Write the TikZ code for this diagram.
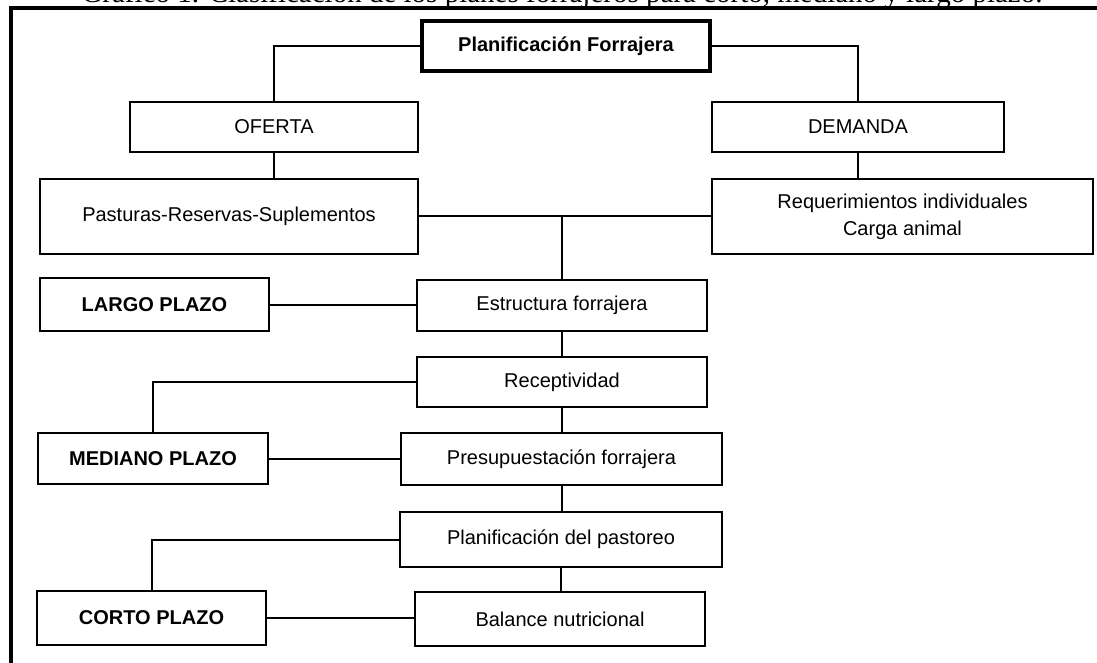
\documentclass[tikz,border=0pt]{standalone}
\usepackage{fontspec}
\setmainfont{Liberation Serif}
\newfontfamily\boxfont{Liberation Sans}
\begin{document}
\begin{tikzpicture}[x=0.5pt,y=-0.5pt,
  bx/.style={draw, line width=1pt, rectangle, inner sep=0pt, align=center,
    font=\boxfont\fontsize{10pt}{13.5pt}\selectfont},
  bxb/.style={bx, font=\boxfont\bfseries\fontsize{10pt}{13.5pt}\selectfont},
  ln/.style={line width=1pt}]
\useasboundingbox (0,0) rectangle (1097,663);
\fill[white] (0,0) rectangle (1097,663);
% title (cut at the top)
\node[anchor=base, inner sep=0pt, font=\fontsize{14.5pt}{17pt}\selectfont] (title) at (562,2.5)
  {Gráfico 1. Clasificación de los planes forrajeros para corto, mediano y largo plazo.};
% frame
\draw[line width=1.6pt] (11,670) -- (11,8) -- (1105,8);
% boxes
\node[bxb, line width=2pt, minimum width=144pt, minimum height=25pt] (pf) at (566,46) {Planificación Forrajera};
\node[bx, minimum width=144pt, minimum height=25pt] (ofe) at (274,127) {OFERTA};
\node[bx, minimum width=146pt, minimum height=25pt] (dem) at (858,127) {DEMANDA};
\node[bx, minimum width=189pt, minimum height=37.5pt] (pas) at (229,216.5) {Pasturas-Reservas-Suplementos};
\node[bx, minimum width=190.5pt, minimum height=37.5pt] (req) at (902.5,216.5) {Requerimientos individuales\\Carga animal};
\node[bxb, minimum width=114.5pt, minimum height=26.5pt] (lar) at (154.5,304.5) {LARGO PLAZO};
\node[bx, minimum width=145pt, minimum height=25.5pt] (est) at (562,305.5) {Estructura forrajera};
\node[bx, minimum width=145pt, minimum height=25pt] (rec) at (562,382) {Receptividad};
\node[bxb, minimum width=115pt, minimum height=25.5pt] (med) at (153,458.5) {MEDIANO PLAZO};
\node[bx, minimum width=160.5pt, minimum height=26pt] (pre) at (561.5,459) {Presupuestación forrajera};
\node[bx, minimum width=161pt, minimum height=27.5pt] (pla) at (561,539.5) {Planificación del pastoreo};
\node[bxb, minimum width=114.5pt, minimum height=27pt] (cor) at (151.5,618) {CORTO PLAZO};
\node[bx, minimum width=145pt, minimum height=27pt] (bal) at (560,619) {Balance nutricional};
% connectors
\draw[ln] (pf.west) -| (ofe.north);
\draw[ln] (pf.east) -| (dem.north);
\draw[ln] (ofe.south) -- (ofe.south |- pas.north);
\draw[ln] (dem.south) -- (dem.south |- req.north);
\draw[ln] (pas.east) -- (req.west);
\coordinate (j) at (est.north |- pas.east);
\draw[ln] (j) -- (est.north);
\draw[ln] (lar.east) -- (lar.east -| est.west);
\draw[ln] (est.south) -- (est.south |- rec.north);
\draw[ln] (rec.west) -| (med.north);
\draw[ln] (med.east) -- (med.east -| pre.west);
\draw[ln] (rec.south) -- (rec.south |- pre.north);
\draw[ln] (pre.south) -- (pre.south |- pla.north);
\draw[ln] (pla.west) -| (cor.north);
\draw[ln] (pla.south) -- (pla.south |- bal.north);
\draw[ln] (cor.east) -- (cor.east -| bal.west);
\end{tikzpicture}
\end{document}
